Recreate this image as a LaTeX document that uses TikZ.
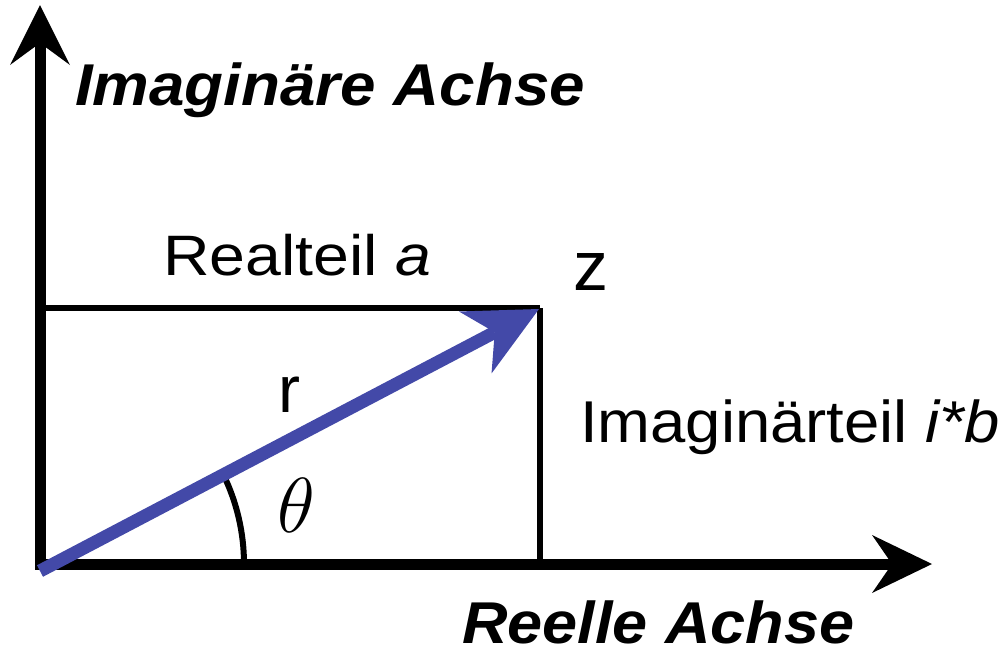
\RequirePackage{fix-cm}
\documentclass[tikz,border=0pt]{standalone}
\usepackage{graphicx}
\usepackage{fontspec}
\setmainfont{Liberation Sans}
\usetikzlibrary{arrows.meta}
\definecolor{vecblue}{RGB}{67,73,168}
\begin{document}
\begin{tikzpicture}[x=1pt,y=-1pt,
  axis/.style={line width=11pt, line join=miter,
    arrows={Stealth[length=60pt,width=60pt,inset=22pt,line width=0pt]-Stealth[length=60pt,width=58pt,inset=20pt,line width=0pt]}},
  boxline/.style={line width=6pt},
  vec/.style={line width=13pt, vecblue,
    arrows={-Stealth[length=72pt,width=70pt,inset=22pt,line width=0pt]}},
  anglearc/.style={line width=6pt},
  axlabel/.style={font=\fontsize{59}{60}\selectfont\bfseries\itshape, inner sep=0pt, anchor=base west},
  lbl/.style={font=\fontsize{57}{60}\selectfont, inner sep=0pt, anchor=base west}]
\useasboundingbox (0,0) rectangle (1001,651);
\coordinate (ytop) at (40,5);
\coordinate (O) at (40,564);
\coordinate (xend) at (932,564);
\coordinate (tl) at (40,308);
\coordinate (z) at (539,309);
\coordinate (br) at (540,564);
\coordinate (vstart) at (40,571);
% axes
\draw[axis] (ytop) -- (O) -- (xend);
% rectangle
\draw[boxline] (tl) -- (540,308);
\draw[boxline] (540,308) -- (br);
% angle arc
\draw[anglearc] (244,564) arc[start angle=0, end angle=-26, radius=204];
% vector
\draw[vec] (vstart) -- (z);
% labels
\node[axlabel] (lim) at (75,105) {\scalebox{1.08}[1]{Imaginäre Achse}};
\node[axlabel, text depth=0pt] (lre) at (462,643) {\scalebox{1.068}[1]{Reelle Achse}};
\node[lbl] (lra) at (163,275) {\scalebox{1.13}[1]{Realteil \textit{a}}};
\node[lbl, font=\fontsize{70}{72}\selectfont] (lz) at (573,290) {z};
\node[lbl, font=\fontsize{66}{70}\selectfont] (lr) at (278,412) {r};
\node[lbl, font=\fontsize{59}{60}\selectfont] (lib) at (580,442) {\scalebox{1.075}[1]{Imaginärteil \textit{i*b}}};
\node[inner sep=0pt, anchor=base west, font=\fontsize{78}{80}\selectfont] (lth) at (277,532) {$\theta$};
\end{tikzpicture}
\end{document}
